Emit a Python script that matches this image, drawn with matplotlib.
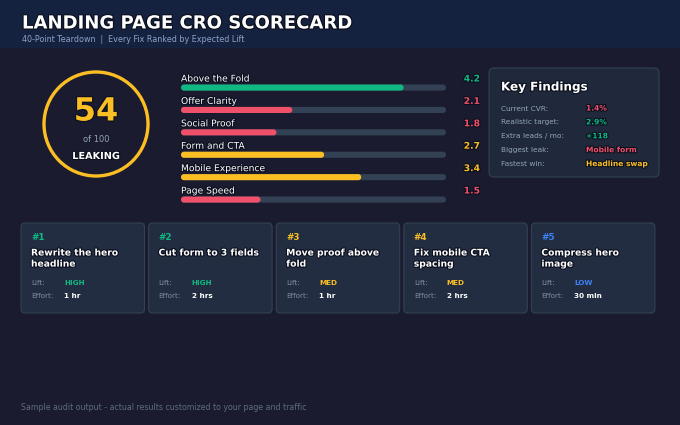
import matplotlib
matplotlib.use("Agg")
import matplotlib.pyplot as plt
from matplotlib.patches import FancyBboxPatch, Circle, Rectangle
import matplotlib.patheffects as pe

# data
score = 54
score_max = 100
score_label = "LEAKING"

categories = ["Above the Fold", "Offer Clarity", "Social Proof",
              "Form and CTA", "Mobile Experience", "Page Speed"]
cat_scores = [4.2, 2.1, 1.8, 2.7, 3.4, 1.5]
cat_max = 5.0

finding_labels = ["Current CVR:", "Realistic target:", "Extra leads / mo:",
                  "Biggest leak:", "Fastest win:"]
finding_values = ["1.4%", "2.9%", "+118", "Mobile form", "Headline swap"]
finding_kinds = ["bad", "good", "good", "bad", "warn"]

fix_titles = ["Rewrite the hero\nheadline", "Cut form to 3 fields",
              "Move proof above\nfold", "Fix mobile CTA\nspacing",
              "Compress hero\nimage"]
fix_lift = ["HIGH", "HIGH", "MED", "MED", "LOW"]
fix_effort = ["1 hr", "2 hrs", "1 hr", "2 hrs", "30 min"]

BG = "#1a1b2e"
HEAD = "#14213f"
PANEL = "#1f293b"
CARD = "#222d42"
EDGE = "#334155"
TRACK = "#334155"
GREEN = "#10b981"
RED = "#f0506a"
YELLOW = "#fbbf24"
BLUE = "#3b82f6"
MUTED = "#94a3b8"

lift_col = {"HIGH": GREEN, "MED": YELLOW, "LOW": BLUE}
kind_col = {"bad": RED, "good": GREEN, "warn": YELLOW}


def score_col(v):
    if v >= 3.5:
        return GREEN
    if v >= 2.5:
        return YELLOW
    return RED


outline = [pe.withStroke(linewidth=1.6, foreground="#0b0f1e")]

fig = plt.figure(figsize=(6.8, 4.25), dpi=100, facecolor=BG)
ax = fig.add_axes([0, 0, 1, 1])
ax.set_xlim(0, 680)
ax.set_ylim(425, 0)
ax.axis("off")
ax.set_facecolor(BG)

# header
ax.add_patch(Rectangle((0, 0), 680, 48, facecolor=HEAD, edgecolor="none"))
ax.text(22, 23.5, "LANDING PAGE CRO SCORECARD", color="white", fontsize=13,
        fontweight="bold", va="center", path_effects=outline)
ax.text(22, 39, "40-Point Teardown  |  Every Fix Ranked by Expected Lift",
        color="#8ea2c6", fontsize=5.8, va="center")

# score ring
ax.add_patch(Circle((96, 124), 52, facecolor="none", edgecolor=YELLOW, lw=2.4))
ax.text(96, 112, str(score), color=YELLOW, fontsize=23, fontweight="bold",
        ha="center", va="center", path_effects=outline)
ax.text(96, 139, "of %d" % score_max, color=MUTED, fontsize=6, ha="center", va="center")
ax.text(96, 156, score_label, color="white", fontsize=7, fontweight="bold",
        ha="center", va="center", path_effects=outline)

# category bars
x0, x1 = 181, 446
for i, (name, v) in enumerate(zip(categories, cat_scores)):
    y = 79 + i * 22.4
    ax.text(x0, y, name, color="white", fontsize=6.6, va="center", path_effects=outline)
    ax.text(480, y, "%.1f" % v, color=score_col(v), fontsize=6.6, fontweight="bold",
            ha="right", va="center", path_effects=outline)
    ax.add_patch(FancyBboxPatch((x0 + 3, y + 8.5), x1 - x0 - 6, 0.1,
                                boxstyle="round,pad=3", facecolor=TRACK, edgecolor="none"))
    w = (x1 - x0) * v / cat_max
    ax.add_patch(FancyBboxPatch((x0 + 3, y + 8.5), w - 6, 0.1,
                                boxstyle="round,pad=3", facecolor=score_col(v), edgecolor="none"))

# key findings panel
ax.add_patch(FancyBboxPatch((489, 68), 170, 109, boxstyle="round,pad=0,rounding_size=5",
                            facecolor=PANEL, edgecolor=EDGE, lw=0.8))
ax.text(501, 87, "Key Findings", color="white", fontsize=8.6, fontweight="bold",
        va="center", path_effects=outline)
for i, (lab, val, k) in enumerate(zip(finding_labels, finding_values, finding_kinds)):
    y = 108.5 + i * 13.9
    ax.text(501, y, lab, color=MUTED, fontsize=5.3, va="center")
    ax.text(586, y, val, color=kind_col[k], fontsize=5.4, fontweight="bold",
            va="center", path_effects=outline)

# fix cards
cx = 21
cw = 123.5
gap = 4.1
for i in range(5):
    x = cx + i * (cw + gap)
    ax.add_patch(FancyBboxPatch((x, 223), cw, 90, boxstyle="round,pad=0,rounding_size=4",
                                facecolor=CARD, edgecolor=EDGE, lw=0.8))
    rank_c = [GREEN, GREEN, YELLOW, YELLOW, BLUE][i]
    ax.text(x + 10, 237.5, "#%d" % (i + 1), color=rank_c, fontsize=6.4,
            fontweight="bold", va="center")
    ax.text(x + 10, 248.5, fix_titles[i], color="white", fontsize=6.6, fontweight="bold",
            va="top", linespacing=1.3, path_effects=outline)
    ax.text(x + 10, 283, "Lift:", color="#7f8ba0", fontsize=5.2, va="center")
    ax.text(x + 43, 283, fix_lift[i], color=lift_col[fix_lift[i]], fontsize=5.2,
            fontweight="bold", va="center")
    ax.text(x + 10, 296, "Effort:", color="#7f8ba0", fontsize=5.2, va="center")
    ax.text(x + 43, 296, fix_effort[i], color="white", fontsize=5.2,
            fontweight="bold", va="center")

ax.text(21, 408, "Sample audit output - actual results customized to your page and traffic",
        color="#5f6b80", fontsize=5.7, va="center")

fig.savefig("out.png", dpi=100, facecolor=BG)
